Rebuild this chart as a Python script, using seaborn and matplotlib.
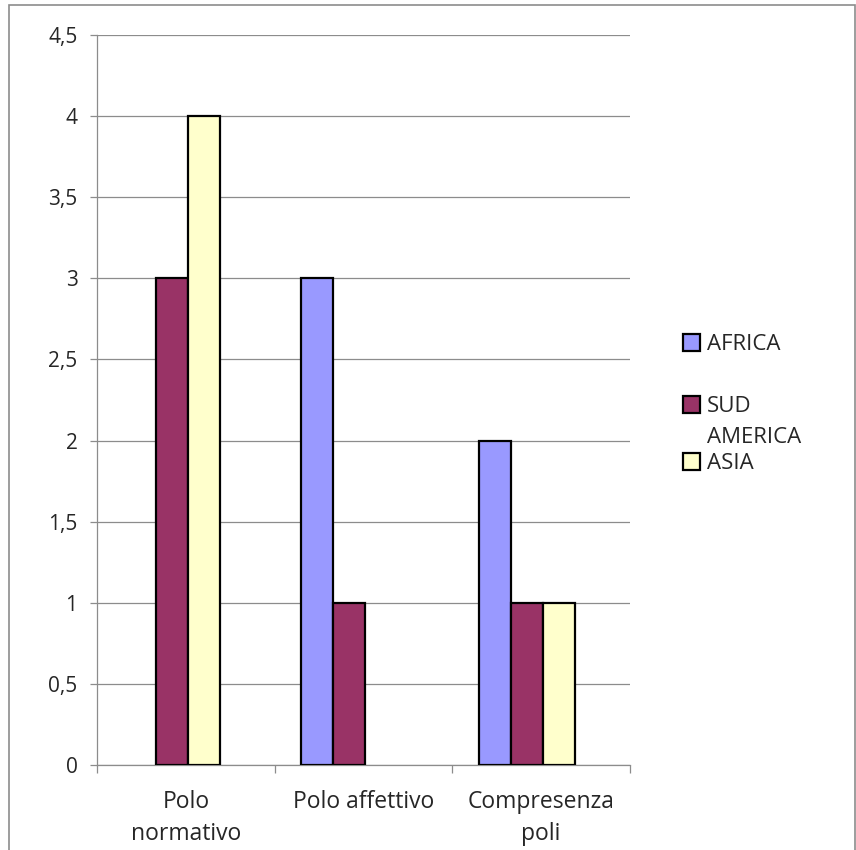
import matplotlib
matplotlib.use("Agg")
import matplotlib.pyplot as plt
from matplotlib.patches import Rectangle
from matplotlib.legend import Legend
from matplotlib.ticker import FixedLocator, FuncFormatter
import seaborn as sns
import pandas as pd

# Data
categories = ["Polo\nnormativo", "Polo affettivo", "Compresenza\npoli"]
series = ["AFRICA", "SUD\nAMERICA", "ASIA"]
africa = [0, 3, 2]
sud_america = [3, 1, 1]
asia = [4, 0, 1]
colors = ["#9999FF", "#993366", "#FFFFCC"]

rows = []
for name, vals in zip(series, [africa, sud_america, asia]):
    for cat, v in zip(categories, vals):
        rows.append({"categoria": cat, "serie": name, "valore": v})
df = pd.DataFrame(rows)
df_drawn = df[df["valore"] > 0]

sns.set_theme(style="white")
plt.rcParams["font.family"] = ["Open Sans", "DejaVu Sans"]

fig = plt.figure(figsize=(8.56, 8.5), dpi=100)
ax = fig.add_axes([97 / 856, 1 - 765 / 850, 533 / 856, 730 / 850])

sns.barplot(
    data=df_drawn, x="categoria", y="valore", hue="serie",
    order=categories, hue_order=series, palette=colors,
    width=0.54, dodge=True, edgecolor="black", linewidth=1.6,
    saturation=1, ax=ax, zorder=3, legend=True,
)

shift = 0.08
ax.set_xlim(-0.5 + shift, 2.5 + shift)
ax.set_ylim(0, 4.5)

# y axis
ax.set_yticks([i * 0.5 for i in range(10)])
ax.yaxis.set_major_formatter(FuncFormatter(lambda v, p: (f"{v:g}").replace(".", ",")))
ax.grid(axis="y", color="#8c8c8c", linewidth=0.9, zorder=0)
ax.tick_params(axis="y", which="major", length=5, width=0.9, color="#8c8c8c",
               pad=9, labelsize=15, left=True)

# x axis: labels at category centres, tick marks at category boundaries
ax.xaxis.set_major_locator(FixedLocator([i + shift for i in range(3)]))
ax.set_xticklabels(categories, fontsize=16.5, linespacing=1.45)
ax.xaxis.set_minor_locator(FixedLocator([i - 0.5 + shift for i in range(4)]))
ax.tick_params(axis="x", which="major", length=0, pad=18)
ax.tick_params(axis="x", which="minor", length=6, width=0.9, color="#8c8c8c",
               bottom=True)

ax.set_xlabel("")
ax.set_ylabel("")
for s in ["top", "right"]:
    ax.spines[s].set_visible(False)
for s in ["left", "bottom"]:
    ax.spines[s].set_color("#8c8c8c")
    ax.spines[s].set_linewidth(0.9)

# legend: one entry per slot, evenly pitched; long labels spill downwards
handles, labels = ax.get_legend_handles_labels()
ax.get_legend().remove()
slot_tops = [334, 396, 453]
for h, lab, top in zip(handles, labels, slot_tops):
    lg = Legend(
        ax, [h], [lab], loc="upper left",
        bbox_to_anchor=(683 / 856, 1 - top / 850),
        bbox_transform=fig.transFigure, frameon=False, fontsize=16,
        handlelength=0.78, handleheight=0.78, handletextpad=0.3,
        borderaxespad=0, borderpad=0,
    )
    for item in lg._legend_handle_box.get_children()[0].get_children():
        item.align = "top"
    for t in lg.get_texts():
        t.set_linespacing(1.65)
    for p in lg.legend_handles:
        p.set_edgecolor("black")
        p.set_linewidth(1.6)
    ax.add_artist(lg)

# chart area border
fig.patches.append(Rectangle((9 / 856, -0.05), (855 - 9) / 856, 1.05 - 5 / 850,
                             transform=fig.transFigure, fill=False,
                             edgecolor="#8c8c8c", linewidth=1.2))

fig.savefig("out.png", dpi=100)
